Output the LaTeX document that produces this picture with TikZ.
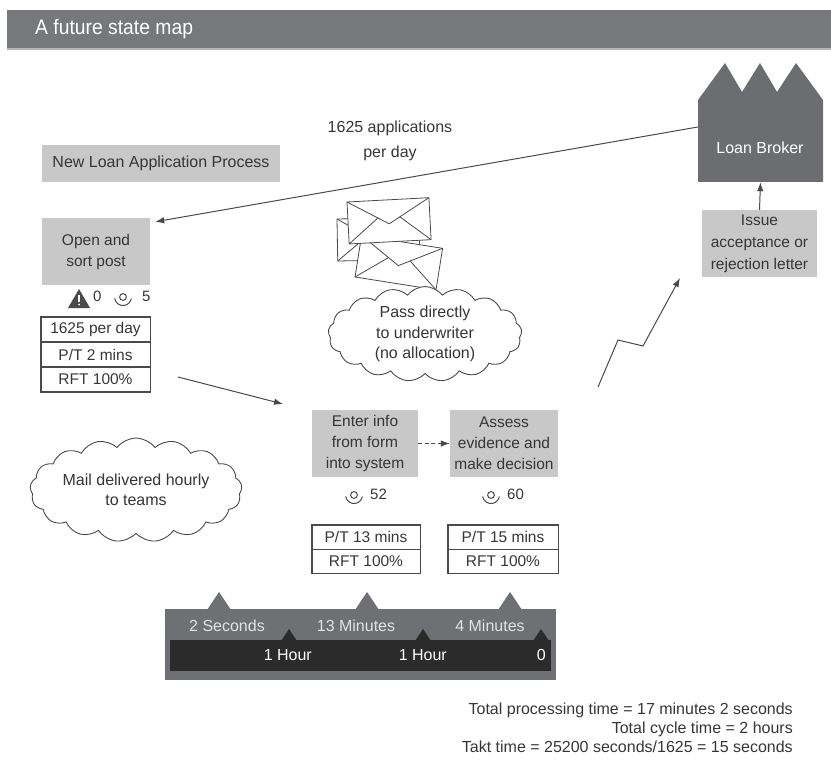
\documentclass[tikz,border=0pt]{standalone}
\usepackage{fontspec}
\setmainfont{Liberation Sans}
\newfontfamily\titlefont{Liberation Sans}[FakeStretch=0.92]
\usetikzlibrary{arrows.meta,shapes.symbols,calc}

\definecolor{titlegray}{HTML}{77787B}
\definecolor{titleedge}{HTML}{B4B5B7}
\definecolor{boxgray}{HTML}{C8C8C8}
\definecolor{plantgray}{HTML}{6C6D70}
\definecolor{bandgray}{HTML}{6F7073}
\definecolor{banddark}{HTML}{2B2B2C}
\definecolor{ink}{HTML}{363636}
\definecolor{linegray}{HTML}{4A4A4A}
\definecolor{bandtext}{HTML}{E2E2E2}

\begin{document}
\begin{tikzpicture}[x=1pt,y=-1pt,
  every node/.style={text=ink, font=\fontsize{15.5}{21}\selectfont},
  procbox/.style={fill=boxgray, align=center, inner sep=0pt},
  cell/.style={draw=linegray, line width=0.9pt, minimum height=24pt, inner sep=0pt},
  conn/.style={draw=linegray, line width=1pt, -{Latex[length=9pt,width=6.5pt]}},
  thought/.style={cloud, draw=linegray, line width=0.9pt, fill=white, cloud puffs=17,
    cloud puff arc=105, aspect=2.4, align=center, inner sep=0pt,
    font=\fontsize{16}{20.5}\selectfont},
  envline/.style={draw=linegray, line width=0.8pt, fill=white, line join=round},
  iconline/.style={draw=linegray, line width=1pt},
  smallnum/.style={font=\fontsize{15}{15}\selectfont, inner sep=0pt},
  bandlabel/.style={text=bandtext, font=\fontsize{16}{16}\selectfont, inner sep=0pt},
  envelope/.pic={
    \filldraw[envline] (0,0) rectangle (82,42);
    \draw[envline, fill=none] (0,0) -- (41,24) -- (82,0);
    \draw[envline, fill=none] (0,42) -- (30,17.6);
    \draw[envline, fill=none] (82,42) -- (52,17.6);
  },
  queue/.pic={
    \draw[iconline] (0,0) circle (3.4);
    \draw[iconline] (170:8.5) arc[start angle=170, end angle=10, radius=8.5];
  }
]
\useasboundingbox (0,0) rectangle (831,765);

% title bar
\fill[titlegray] (7,10) rectangle (831,48);
\fill[titleedge] (7,48) rectangle (831,50);
\node[anchor=west, text=white, font=\titlefont\fontsize{21}{21}\selectfont, inner sep=0pt]
  (title) at (35,29) {A future state map};

% process name
\node[procbox, minimum width=238pt, minimum height=37pt, font=\fontsize{16}{16}\selectfont]
  (procname) at (161,163.5) {New Loan Application Process};

% customer / supplier
\fill[plantgray] (698,182) -- (698,100) -- (725,63) -- (742,92) -- (760,63)
  -- (777,92) -- (796,63) -- (823,100) -- (823,182) -- cycle;
\node[minimum width=125pt, minimum height=82pt, inner sep=0pt] (broker) at (760.5,141) {};
\node[text=white, font=\fontsize{16}{16}\selectfont, inner sep=0pt] (brokerlabel) at (760,148) {Loan Broker};

\node[align=center, font=\fontsize{16}{25}\selectfont] (demand) at (390,141)
  {1625 applications\\per day};

% process boxes
\node[procbox, minimum width=108pt, minimum height=67pt] (open) at (96,251.5) {Open and\\sort post};
\node[procbox, minimum width=106pt, minimum height=67pt] (enter) at (365,443.5) {Enter info\\from form\\into system};
\node[procbox, minimum width=108pt, minimum height=67pt] (assess) at (504,443.5) {Assess\\evidence and\\make decision};
\node[procbox, minimum width=115pt, minimum height=67pt, font=\fontsize{15.5}{22}\selectfont]
  (issue) at (759.5,243.5) {Issue\\acceptance or\\rejection letter};

% icons under "Open and sort post"
\fill[linegray] (68,308) -- (79,289) -- (90,308) -- cycle;
\draw[white, line width=1.5pt] (79,295) -- (79,301.5);
\fill[white] (79,304.5) circle (1);
\node[smallnum, anchor=west] (warnnum) at (93,296) {0};
\pic at (123,297) {queue};
\node[smallnum, anchor=west] (q1num) at (142,296) {5};

\pic at (354,495) {queue};
\node[smallnum, anchor=west] (q2num) at (370,494) {52};
\pic at (491,495) {queue};
\node[smallnum, anchor=west] (q3num) at (507,494) {60};

% data tables
\node[cell, minimum width=109pt] (o1) at (95.5,329.5) {1625 per day};
\node[cell, minimum width=109pt] (o2) at (95.5,354.5) {P/T 2 mins};
\node[cell, minimum width=109pt] (o3) at (95.5,379.5) {RFT 100\%};
\draw[linegray, line width=1.3pt] (o1.north west) rectangle (o3.south east);

\node[cell, minimum width=108pt] (e1) at (366,537) {P/T 13 mins};
\node[cell, minimum width=108pt] (e2) at (366,561) {RFT 100\%};
\draw[linegray, line width=1.3pt] (e1.north west) rectangle (e2.south east);

\node[cell, minimum width=110pt] (a1) at (503,537) {P/T 15 mins};
\node[cell, minimum width=110pt] (a2) at (503,561) {RFT 100\%};
\draw[linegray, line width=1.3pt] (a1.north west) rectangle (a2.south east);

% envelopes (push flow)
\pic[rotate=1] at (337,219) {envelope};
\pic[rotate=-9] at (361.6,235.5) {envelope};
\pic[rotate=3] at (347,202) {envelope};

% clouds
\node[thought] (pass) at (425,334) {Pass directly\\to underwriter\\(no allocation)};
\node[thought] (mail) at (136,490) {Mail delivered hourly\\to teams};

% connectors
\draw[conn] ($(broker.west)+(0,-14)$) -- ($(open.north east)+(5,4)$);
\draw[conn] (issue.north) -- (broker.south);
\coordinate (flowA) at (178,377);
\coordinate (flowB) at (283,404);
\draw[conn] (flowA) -- (flowB);
\draw[conn, dash pattern=on 4pt off 2.5pt] (enter.east) -- (assess.west);
\coordinate (bolt0) at (598,387);
\coordinate (bolt1) at (618,340);
\coordinate (bolt2) at (643,346);
\coordinate (bolt3) at (680,278);
\draw[conn] (bolt0) -- (bolt1) -- (bolt2) -- (bolt3);

% time line
\fill[bandgray] (165,609) rectangle (556,680);
\foreach \px in {219,367,510}
  \fill[bandgray] (\px-12,610) -- (\px,592) -- (\px+12,610) -- cycle;
\fill[banddark] (170,640) rectangle (551,671);
\foreach \px in {289,423,541}
  \fill[banddark] (\px-8,641) -- (\px,629) -- (\px+8,641) -- cycle;
\node[bandlabel] (t1) at (227,626) {2 Seconds};
\node[bandlabel] (t2) at (356,626) {13 Minutes};
\node[bandlabel] (t3) at (490,626) {4 Minutes};
\node[bandlabel, anchor=east, text=white] (w1) at (312,655) {1 Hour};
\node[bandlabel, anchor=east, text=white] (w2) at (447,655) {1 Hour};
\node[bandlabel, anchor=east, text=white] (w3) at (546,655) {0};

% summary
\node[align=right, anchor=north east, inner sep=0pt, font=\fontsize{16}{19}\selectfont]
  (totals) at (793,703) {Total processing time = 17 minutes 2 seconds\\
  Total cycle time = 2 hours\\
  Takt time = 25200 seconds/1625 = 15 seconds};
\end{tikzpicture}
\end{document}
